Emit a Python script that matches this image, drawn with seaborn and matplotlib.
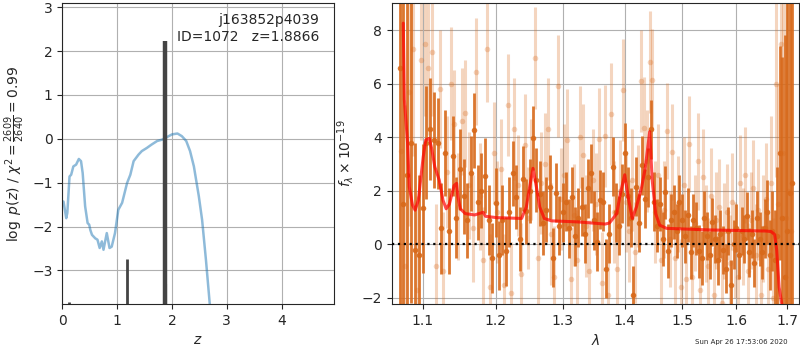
import numpy as np
import seaborn as sns
import matplotlib
matplotlib.use("Agg")
import matplotlib.pyplot as plt
from matplotlib.ticker import FixedLocator, FixedFormatter, NullLocator

# ---- left panel: log p(z) curve and pdf spikes ----
pz_z = [0.02, 0.07, 0.09, 0.13, 0.16, 0.20, 0.25, 0.30, 0.34, 0.37, 0.415, 0.46, 0.49, 0.51,
        0.54, 0.60, 0.64, 0.68, 0.72, 0.75, 0.81, 0.86, 0.90, 0.96, 1.02, 1.09, 1.18, 1.24,
        1.30, 1.39, 1.45, 1.54, 1.63, 1.73, 1.82, 1.91, 2.00, 2.10, 2.18, 2.26, 2.33, 2.40,
        2.49, 2.55, 2.62, 2.69, 2.75]
pz_logp = [-1.43, -1.81, -1.69, -0.86, -0.82, -0.63, -0.59, -0.46, -0.51, -0.78, -1.54, -1.92,
           -1.96, -2.08, -2.19, -2.27, -2.30, -2.49, -2.34, -2.53, -2.15, -2.49, -2.46, -2.15,
           -1.62, -1.46, -1.01, -0.82, -0.51, -0.36, -0.28, -0.21, -0.13, -0.05, -0.02, 0.04,
           0.10, 0.12, 0.06, -0.05, -0.28, -0.63, -1.31, -1.85, -2.76, -3.77, -4.3]
spike_z = [0.12, 1.18, 1.868, 1.89]
spike_top = [-3.72, -2.75, 2.22, -3.3]
spike_lw = [2.0, 2.0, 3.2, 1.5]

# ---- right panel: spectrum ----
dark_wave = [1.070, 1.075, 1.080, 1.085, 1.090, 1.095, 1.100, 1.105, 1.110, 1.115, 1.120, 1.125,
             1.130, 1.135, 1.140, 1.145, 1.150, 1.155, 1.160, 1.165, 1.170, 1.175, 1.180, 1.185,
             1.190, 1.195, 1.200, 1.205, 1.210, 1.215, 1.220, 1.225, 1.230, 1.235, 1.240, 1.245,
             1.250, 1.255, 1.260, 1.265, 1.270, 1.275, 1.280, 1.285, 1.290, 1.295, 1.300, 1.305,
             1.310, 1.315, 1.320, 1.325, 1.330, 1.335, 1.340, 1.345, 1.350, 1.355, 1.360, 1.365,
             1.370, 1.375, 1.380, 1.385, 1.390, 1.395, 1.400, 1.405, 1.410, 1.415, 1.420, 1.425,
             1.430, 1.435, 1.440, 1.445, 1.450, 1.455, 1.460, 1.465, 1.470, 1.475, 1.480, 1.485,
             1.490, 1.495, 1.500, 1.505, 1.510, 1.515, 1.520, 1.525, 1.530, 1.535, 1.540, 1.545,
             1.550, 1.555, 1.560, 1.565, 1.570, 1.575, 1.580, 1.585, 1.590, 1.595, 1.600, 1.605,
             1.610, 1.615, 1.620, 1.625, 1.630, 1.635, 1.640, 1.645, 1.650, 1.655, 1.660, 1.665,
             1.670, 1.675, 1.680, 1.685, 1.690, 1.695, 1.700, 1.705, 1.710]
dark_flux = [6.6, 1.5, 2.6, 3.8, -0.2, -0.4, 1.35, 3.8, 4.3, 3.9, 3.77, 0.6,
             3.4, 0.5, 3.3, 1.0, 2.8, 1.8, 0.9, 2.65, 4.27, 1.57, 2.0, 2.56,
             0.91, -0.5, 1.56, -0.41, 0.9, -0.26, 1.2, 2.65, 1.78, 0.2, 2.46, 1.23,
             2.0, 3.96, 2.4, 1.9, 0.8, 1.3, 2.15, -0.5, 1.93, 0.7, 1.2, 1.6,
             0.6, 1.78, 0.3, 1.0, 1.4, 0.4, 2.1, 2.65, 0.9, 0.1, 1.67, 1.6,
             -0.9, 0.4, 2.9, 1.2, 0.7, 1.9, 3.43, 1.8, 1.0, -1.9, 2.15, 0.8,
             2.95, 1.7, 2.5, 4.3, 1.6, 0.7, 1.5, 0.2, 1.94, -0.25, 0.9, 1.2,
             0.5, 1.6, 0.9, 0.3, 1.1, -0.3, 0.9, 0.6, -0.26, -0.5, 1.0, 0.3,
             -0.4, 0.85, 0.2, -0.6, 0.4, -0.2, -0.9, 0.5, -1.5, 0.0, 0.6, -0.4,
             0.5, 0.2, 1.07, -0.3, 0.4, -0.7, 1.0, 0.2, -0.3, 0.6, 1.2, -0.4,
             0.5, -0.6, 0.3, 3.4, 1.0, -1.2, 0.5, 1.93, 2.28]
dark_err = [15, 12, 9, 6, 4, 3, 2.4, 2.1, 1.9, 1.8, 1.7, 1.7,
            1.6, 1.6, 1.5, 1.5, 1.5, 1.4, 1.4, 1.4, 1.4, 1.4, 1.4, 1.4,
            1.3, 1.3, 1.3, 1.3, 1.3, 1.3, 1.3, 1.2, 1.2, 1.2, 1.2, 1.2,
            1.2, 1.2, 1.2, 1.2, 1.2, 1.2, 1.2, 1.1, 1.1, 1.1, 1.1, 1.1,
            1.1, 1.1, 1.1, 1.1, 1.1, 1.1, 1.1, 1.1, 1.1, 1.1, 1.1, 1.1,
            1.1, 1.1, 1.1, 1.1, 1.1, 1.1, 1.1, 1.1, 1.1, 1.1, 1.1, 1.1,
            1.1, 1.1, 1.1, 1.1, 1.1, 1.0, 1.0, 1.0, 1.0, 1.0, 1.0, 1.0,
            1.0, 1.0, 1.0, 1.0, 1.0, 1.0, 1.0, 1.0, 1.0, 1.0, 1.0, 0.9,
            0.9, 0.9, 0.9, 0.9, 0.9, 0.9, 0.9, 0.9, 0.9, 0.9, 0.9, 0.9,
            0.9, 0.9, 0.9, 0.9, 0.9, 0.9, 1.0, 1.0, 1.0, 1.1, 1.2, 1.3,
            1.5, 1.9, 2.6, 4.0, 6.0, 9.0, 12, 15, 18]

light_wave = [1.0725, 1.0775, 1.0825, 1.0875, 1.0925, 1.0975, 1.1025, 1.1075, 1.1125, 1.1175,
              1.1225, 1.1275, 1.1325, 1.1375, 1.1425, 1.1475, 1.1525, 1.1575, 1.1625, 1.1675,
              1.1725, 1.1775, 1.1825, 1.1875, 1.1925, 1.1975, 1.2025, 1.2075, 1.2125, 1.2175,
              1.2225, 1.2275, 1.2325, 1.2375, 1.2425, 1.2475, 1.2525, 1.2575, 1.2625, 1.2675,
              1.2725, 1.2775, 1.2825, 1.2875, 1.2925, 1.2975, 1.3025, 1.3075, 1.3125, 1.3175,
              1.3225, 1.3275, 1.3325, 1.3375, 1.3425, 1.3475, 1.3525, 1.3575, 1.3625, 1.3675,
              1.3725, 1.3775, 1.3825, 1.3875, 1.3925, 1.3975, 1.4025, 1.4075, 1.4125, 1.4175,
              1.4225, 1.4275, 1.4325, 1.4375, 1.4425, 1.4475, 1.4525, 1.4575, 1.4625, 1.4675,
              1.4725, 1.4775, 1.4825, 1.4875, 1.4925, 1.4975, 1.5025, 1.5075, 1.5125, 1.5175,
              1.5225, 1.5275, 1.5325, 1.5375, 1.5425, 1.5475, 1.5525, 1.5575, 1.5625, 1.5675,
              1.5725, 1.5775, 1.5825, 1.5875, 1.5925, 1.5975, 1.6025, 1.6075, 1.6125, 1.6175,
              1.6225, 1.6275, 1.6325, 1.6375, 1.6425, 1.6475, 1.6525, 1.6575, 1.6625, 1.6675,
              1.6725, 1.6775, 1.6825, 1.6875, 1.6925, 1.6975, 1.7025, 1.7075]
light_flux = [3.5, -0.8, 5.7, 7.3, -1.7, 6.9, 7.5, 6.6, 7.2, -0.8,
              5.8, -1.0, 2.7, 6.0, 4.5, 1.4, 4.6, 4.9, 2.2, 0.6,
              6.45, 1.8, -0.6, 7.3, -1.6, 3.4, 1.2, 2.8, -1.5, 5.2,
              -1.8, 4.3, 2.2, -1.1, 3.7, 1.0, 2.8, 6.95, -0.5, 2.3,
              3.0, 4.3, 0.4, -1.2, 5.9, 1.7, 2.6, 3.9, -1.3, 1.1,
              -0.6, 4.0, 3.35, 0.7, -1.0, 2.4, 1.5, 3.95, -1.45, 4.05,
              -1.9, 4.87, 1.2, -0.9, 2.0, 5.75, 1.6, 0.5, 2.4, -0.3,
              1.8, 6.1, 4.35, 3.1, 6.8, 6.15, 1.2, 2.6, -0.6, 1.3,
              4.24, 0.2, 3.45, -0.5, 1.5, -1.6, 2.2, -1.3, 3.75, -1.2,
              0.8, 3.1, -1.7, 2.5, 0.4, -0.8, 1.8, -1.9, 0.9, 1.4,
              -2.2, 0.5, 1.2, -0.7, 1.6, -0.2, -1.2, 2.3, 0.3, 2.6,
              -1.0, 0.9, 2.1, -0.4, 1.3, -1.9, 0.6, 1.7, -0.9, 2.3,
              -2.0, 6.0, 1.5, 7.5, 3.4, 1.0, 2.0, 0.5]
light_err = [8, 6, 5, 4, 3.5, 3, 2.7, 2.5, 2.4, 2.3,
             2.2, 2.2, 2.1, 2.1, 2.0, 2.0, 2.0, 2.0, 2.0, 2.0,
             2.0, 2.0, 2.0, 2.0, 2.0, 1.9, 1.9, 1.9, 1.9, 1.9,
             1.9, 1.9, 1.9, 1.9, 1.9, 1.9, 1.9, 1.9, 1.9, 1.9,
             1.9, 1.9, 1.9, 1.9, 1.9, 1.9, 1.9, 1.9, 1.9, 1.9,
             1.9, 1.9, 1.9, 1.9, 1.9, 1.9, 1.9, 1.9, 1.9, 1.9,
             1.9, 1.9, 1.9, 1.9, 1.9, 1.9, 1.9, 1.9, 1.9, 1.9,
             1.9, 1.9, 1.9, 1.9, 1.9, 1.9, 1.9, 1.9, 1.9, 1.8,
             1.8, 1.8, 1.8, 1.8, 1.8, 1.8, 1.8, 1.8, 1.8, 1.8,
             1.8, 1.8, 1.8, 1.8, 1.8, 1.8, 1.8, 1.8, 1.8, 1.8,
             1.8, 1.8, 1.8, 1.8, 1.8, 1.8, 1.8, 1.8, 1.8, 1.8,
             1.8, 1.8, 1.8, 1.9, 1.9, 1.9, 2.0, 2.1, 2.2, 2.5,
             3.0, 3.5, 4.5, 5.5, 7.0, 9.0, 12, 15]

model_wave = [1.0748, 1.0762, 1.0804, 1.0825, 1.0867, 1.0901, 1.0943, 1.1007, 1.104, 1.1088,
              1.1117, 1.116, 1.122, 1.127, 1.1313, 1.1356, 1.1421, 1.1455, 1.1473, 1.1506,
              1.1574, 1.1704, 1.1825, 1.1857, 1.2016, 1.238, 1.245, 1.250, 1.255, 1.260,
              1.265, 1.272, 1.283, 1.3245, 1.368, 1.375, 1.387, 1.393, 1.4003, 1.406,
              1.413, 1.420, 1.429, 1.435, 1.4427, 1.447, 1.453, 1.460, 1.472, 1.550,
              1.658, 1.668, 1.675, 1.679, 1.684, 1.690, 1.695]
model_flux = [8.26, 5.4, 3.76, 2.15, 1.47, 1.28, 1.65, 3.27, 3.9, 3.96,
              3.6, 2.9, 2.4, 1.65, 1.33, 1.5, 2.2, 2.28, 1.78, 1.33,
              1.15, 1.1, 1.2, 1.05, 1.0, 0.97, 1.4, 2.15, 2.84, 2.15,
              1.4, 0.97, 0.88, 0.84, 0.76, 0.8, 1.15, 1.9, 2.6, 1.78,
              0.97, 1.4, 2.15, 2.84, 4.21, 2.4, 1.15, 0.72, 0.6, 0.54,
              0.5, 0.48, 0.37, -0.2, -1.6, -2.3, -4.0]

spec_color = "#d8691a"
sns.set_style("ticks")

fig = plt.figure(figsize=(8, 3.5), dpi=100)
ax1 = fig.add_axes([0.078, 0.131, 0.339, 0.861])
ax2 = fig.add_axes([0.4896, 0.131, 0.5095, 0.861])

# left panel
sns.lineplot(x=pz_z, y=pz_logp, ax=ax1, sort=False, color="#1f77b4", alpha=0.5, lw=1.8)
ax1.vlines(spike_z, -10, spike_top, color="#444444", lw=spike_lw)
ax1.set_xlim(0, 4.95)
ax1.set_ylim(-3.77, 3.1)
ax1.set_yticks([-3, -2, -1, 0, 1, 2, 3])
ax1.set_xticks([0, 1, 2, 3, 4])
ax1.grid(True, color="#b0b0b0", lw=0.8)
ax1.set_xlabel(r"$z$")
ax1.set_ylabel(r"$\log\ p(z)$ / $\chi^2=\frac{2609}{2640}=0.99$")
ax1.text(0.947, 0.965, "j163852p4039\nID=1072   z=1.8866", transform=ax1.transAxes,
         ha="right", va="top", multialignment="right", fontsize=10)

# right panel
ax2.set_xscale("log")
ax2.errorbar(light_wave, light_flux, yerr=light_err, fmt="o", color=spec_color,
             alpha=0.28, ms=4, lw=2.2, mec="none", zorder=1)
ax2.errorbar(dark_wave, dark_flux, yerr=dark_err, fmt="o", color=spec_color,
             alpha=0.9, ms=4, lw=2.0, mec="none", zorder=2)
sns.lineplot(x=model_wave, y=model_flux, ax=ax2, sort=False, color="red", alpha=0.7, lw=2.2, zorder=4)
ax2.axhline(0, color="k", ls=":", lw=1.6, zorder=5)
ax2.set_xlim(1.06, 1.725)
ax2.set_ylim(-2.23, 9.02)
xt = [1.1, 1.2, 1.3, 1.4, 1.5, 1.6, 1.7]
ax2.xaxis.set_major_locator(FixedLocator(xt))
ax2.xaxis.set_major_formatter(FixedFormatter([f"{v:.1f}" for v in xt]))
ax2.xaxis.set_minor_locator(NullLocator())
ax2.set_yticks([-2, 0, 2, 4, 6, 8])
ax2.grid(True, color="#b0b0b0", lw=0.8)
ax2.set_xlabel(r"$\lambda$")
ax2.set_ylabel(r"$f_\lambda\times10^{-19}$")

fig.text(0.985, 0.015, "Sun Apr 26 17:53:06 2020", ha="right", va="bottom", fontsize=5)

fig.savefig("out.png", dpi=100)
